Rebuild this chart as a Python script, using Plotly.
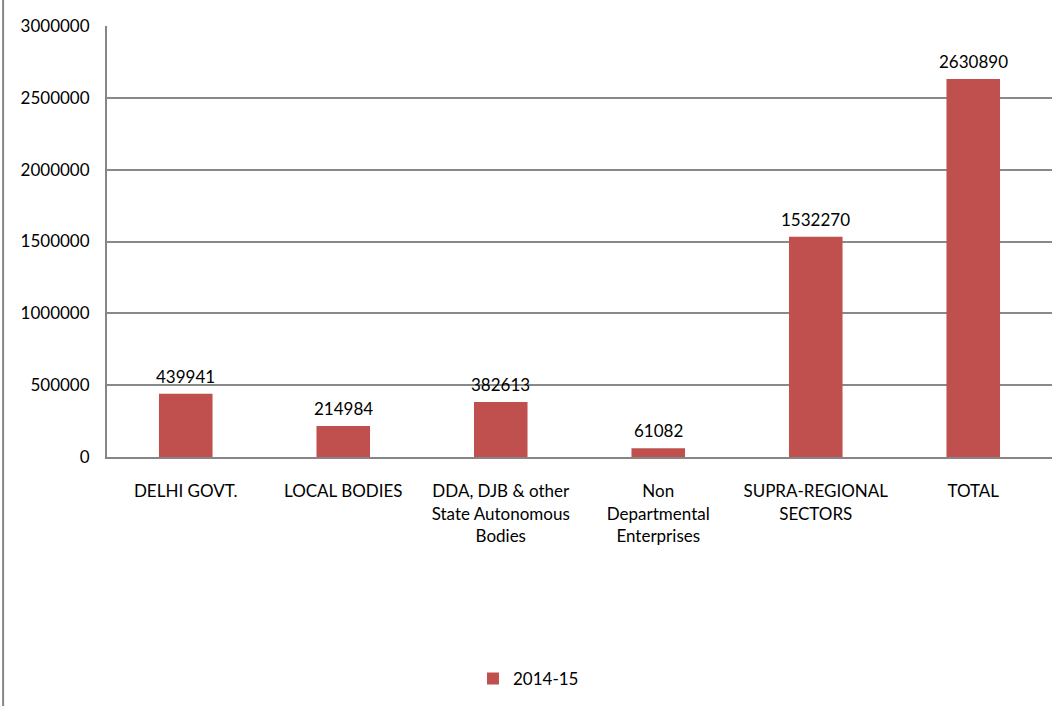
import plotly.graph_objects as go

categories = ["DELHI GOVT.", "LOCAL BODIES", "DDA, DJB & other<br>State Autonomous<br>Bodies",
              "Non<br>Departmental<br>Enterprises", "SUPRA-REGIONAL<br>SECTORS", "TOTAL"]
values = [439941, 214984, 382613, 61082, 1532270, 2630890]
series_name = "2014-15"
y_ticks = [0, 500000, 1000000, 1500000, 2000000, 2500000, 3000000]

FONT = "Lato, Open Sans, sans-serif"
FS = 17

fig = go.Figure()
fig.add_trace(go.Bar(
    x=categories, y=values, name=series_name,
    marker=dict(color="#C0504D", line=dict(width=0)),
    width=0.34,
))

annotations = [
    dict(x=c, y=v, xref="x", yref="y", text=str(v), showarrow=False,
         yanchor="bottom", yshift=5, font=dict(family=FONT, size=FS, color="black"))
    for c, v in zip(categories, values)
]

fig.update_layout(
    width=1053, height=706,
    margin=dict(l=107, r=1, t=26, b=249),
    paper_bgcolor="white", plot_bgcolor="white",
    font=dict(family=FONT, size=FS, color="black"),
    showlegend=True,
    legend=dict(orientation="h", x=0.446, y=-0.515, xanchor="center", yanchor="middle",
                font=dict(family=FONT, size=FS, color="black")),
    xaxis=dict(showline=True, linecolor="#868686", linewidth=2, ticks="",
               ticklabelstandoff=18,
               tickfont=dict(family=FONT, size=FS, color="black"), fixedrange=True),
    yaxis=dict(range=[0, 3000000], tickvals=y_ticks, ticktext=[str(v) for v in y_ticks],
               showgrid=True, gridcolor="#898989", gridwidth=1.5,
               showline=True, linecolor="#868686", linewidth=2, ticks="",
               zeroline=False, ticklabelstandoff=12,
               tickfont=dict(family=FONT, size=FS, color="black")),
    annotations=annotations,
    shapes=[dict(type="line", xref="paper", yref="paper",
                 x0=-104/946, x1=-104/946, y0=-249/431, y1=1 + 26/431,
                 line=dict(color="#868686", width=2))],
)

fig.write_html("out.html", config={"displayModeBar": False},
               post_script="document.body.style.margin='0';")
